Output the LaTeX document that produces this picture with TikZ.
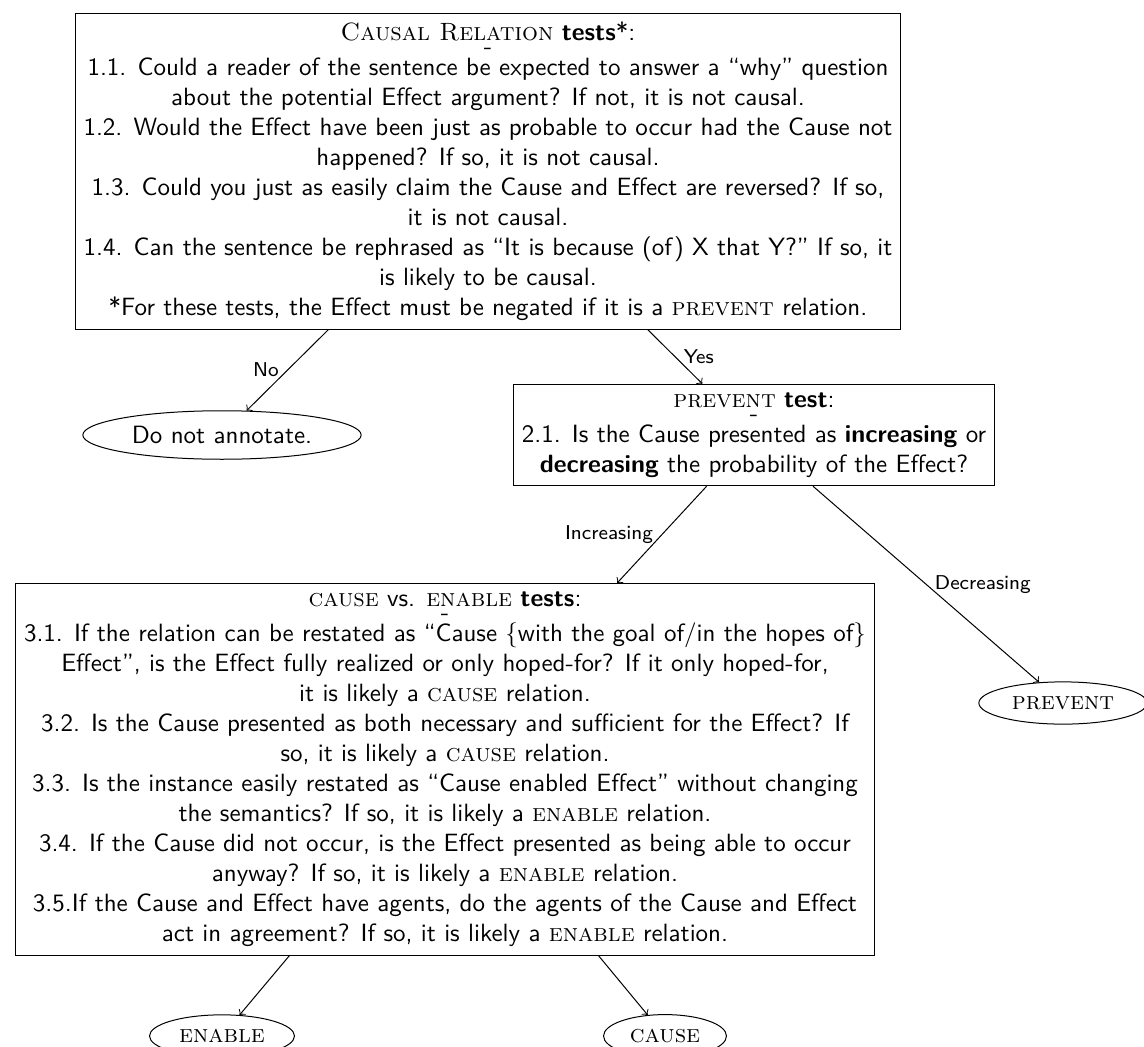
\documentclass[tikz,border=0pt]{standalone}
\usetikzlibrary{shapes.geometric}
\def\relsc#1{{\rmfamily\scshape #1}}
\tikzset{
	testbox/.style={draw, align=center, font=\sffamily},
	leaf/.style={draw, ellipse, font=\sffamily},
	lbl/.style={font=\sffamily\footnotesize}
}
\begin{document}
\begin{tikzpicture}[x=0.4pt, y=-0.4pt]
			%%%%% START %%%%%
			\useasboundingbox (0, 0) rectangle (1144, 1046);
			
			\node[testbox, anchor=north] (causal) at (488, 13) {\relsc{Causal Relation} \textbf{tests}*:\\[-6.5pt]
				-\\[-3.5pt]
				1.1. Could a reader of the sentence be expected to answer a ``why'' question\\
				about the potential Effect argument? If not, it is not causal.\\
				1.2. Would the Effect have been just as probable to occur had the Cause not\\
				happened? If so, it is not causal.\\
				1.3. Could you just as easily claim the Cause and Effect are reversed? If so,\\
				it is not causal.\\
				1.4. Can the sentence be rephrased as ``It is because (of) X that Y?'' If so, it\\
				is likely to be causal.\\
				*For these tests, the Effect must be negated if it is a \relsc{prevent} relation.};
			
			\node[leaf] (noann) at (222, 435) {Do not annotate.};
			
			\node[testbox] (prevtest) at (754, 435) {\relsc{prevent} \textbf{test}:\\[-6.5pt]
				-\\[-3.5pt]
				2.1. Is the Cause presented as \textbf{increasing} or\\
				\textbf{decreasing} the probability of the Effect?};
			
			\node[leaf] (prevleaf) at (1063, 703) {\relsc{prevent}};
			
			\node[testbox, anchor=north] (cetest) at (445, 583) {\relsc{cause} vs. \relsc{enable} \textbf{tests}:\\[-6.5pt]
				-\\[-3.5pt]
				3.1. If the relation can be restated as ``Cause \{with the goal of/in the hopes of\}\\
				Effect'', is the Effect fully realized or only hoped-for? If it only hoped-for,\\
				it is likely a \relsc{cause} relation.\\
				3.2. Is the Cause presented as both necessary and sufficient for the Effect? If\\
				so, it is likely a \relsc{cause} relation.\\
				3.3. Is the instance easily restated as ``Cause enabled Effect'' without changing\\
				the semantics? If so, it is likely a \relsc{enable} relation.\\
				3.4. If the Cause did not occur, is the Effect presented as being able to occur\\
				anyway? If so, it is likely a \relsc{enable} relation.\\
				3.5.If the Cause and Effect have agents, do the agents of the Cause and Effect\\
				act in agreement? If so, it is likely a \relsc{enable} relation.};
			
			\node[leaf] (enable) at (222, 1036) {\relsc{enable}};
			\node[leaf] (cause) at (665, 1036) {\relsc{cause}};
			
			\draw[->] (causal) -- node[lbl, left] {No} (noann);
			\draw[->] (causal) -- node[lbl, right] {Yes} (prevtest);
			\draw[->] (prevtest) -- node[lbl, left] {Increasing} (cetest);
			\draw[->] (prevtest) -- node[lbl, right] {Decreasing} (prevleaf);
			\draw[->] (cetest) -- (enable);
			\draw[->] (cetest) -- (cause);
			
			%%%%% END %%%%%
		\end{tikzpicture}
\end{document}
